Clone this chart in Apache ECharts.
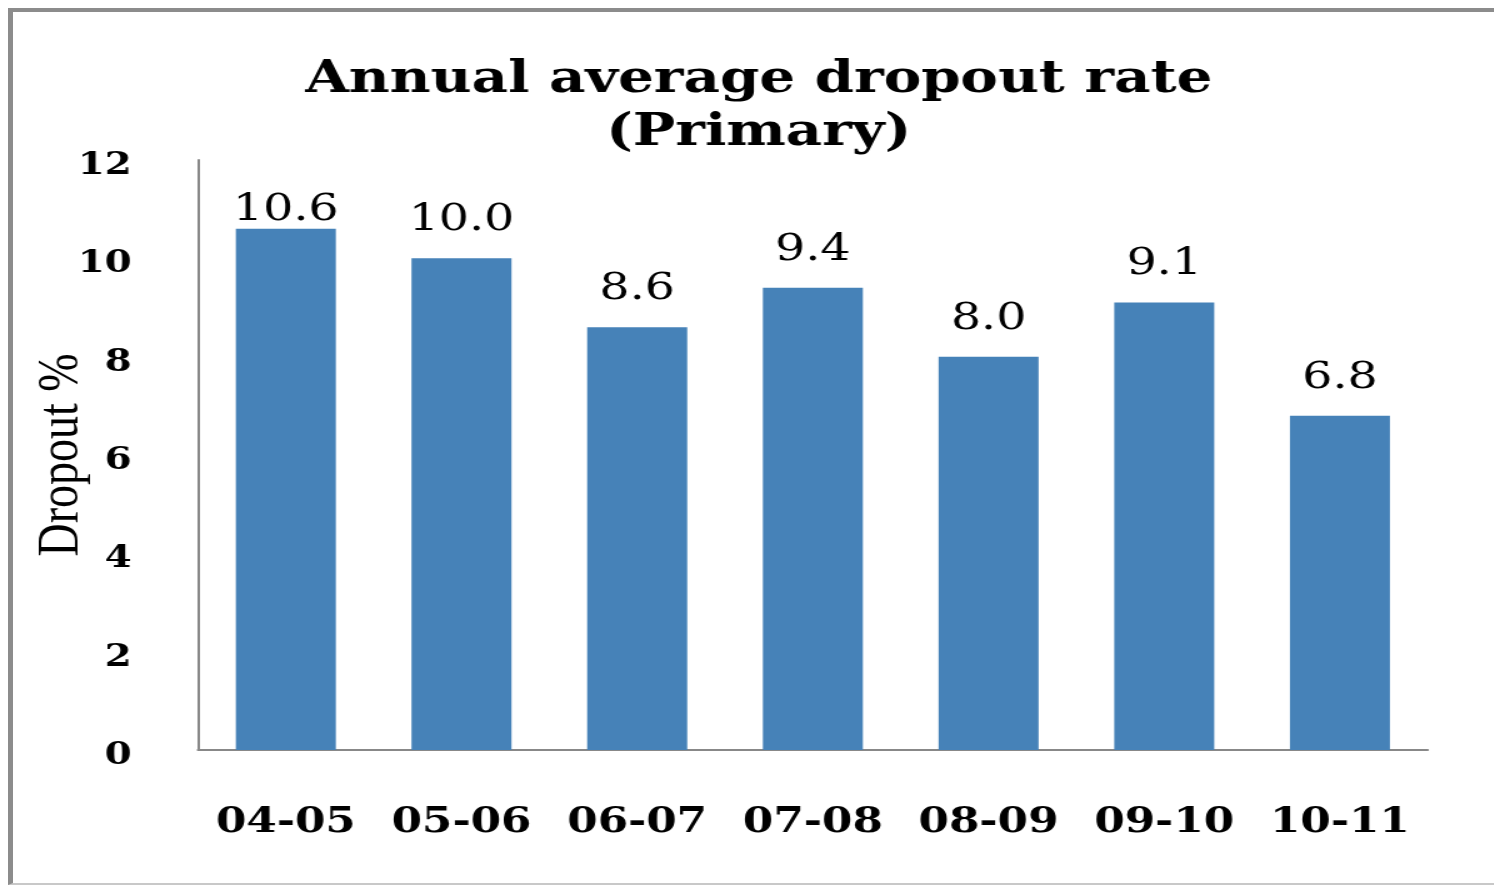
<!DOCTYPE html>
<html>
<head>
<meta charset="utf-8">
<script src="https://cdn.jsdelivr.net/npm/echarts@6/dist/echarts.min.js"></script>
<style>
html,body{margin:0;padding:0;width:1494px;height:890px;overflow:hidden;background:#fff;}
#frame{position:absolute;left:8px;top:8px;width:1500px;height:877px;border-left:5px solid #8c8c8c;border-top:4px solid #8c8c8c;border-bottom:2px solid #c8c8c8;box-sizing:border-box;}
#chart{position:absolute;left:0;top:0;width:1195.2px;height:890px;transform:scaleX(1.25);transform-origin:0 0;}
</style>
</head>
<body>
<div id="frame"></div>
<div id="chart"></div>
<script>
const categories = ['04-05','05-06','06-07','07-08','08-09','09-10','10-11'];
const dropoutRates = [10.6, 10.0, 8.6, 9.4, 8.0, 9.1, 6.8];
const titleLines = ['Annual average dropout rate', '(Primary)'];
const yAxisName = 'Dropout %';
const yMin = 0, yMax = 12, yStep = 2;

const chart = echarts.init(document.getElementById('chart'), null, {renderer:'canvas'});
chart.setOption({
  animation:false,
  title:{
    text: titleLines.join('\n'),
    left: 602, top: 49, textAlign:'center',
    textStyle:{fontFamily:'DejaVu Serif', fontWeight:'bold', fontSize:45, lineHeight:53, color:'#000'}
  },
  grid:{left:158.4, right:52.8, top:160, bottom:140, containLabel:false},
  xAxis:{
    type:'category', data:categories,
    axisLine:{lineStyle:{color:'#888', width:2}},
    axisTick:{show:false},
    axisLabel:{interval:0, margin:55, fontFamily:'DejaVu Serif', fontWeight:'bold', fontSize:35, color:'#000'}
  },
  yAxis:{
    type:'value', min:yMin, max:yMax, interval:yStep,
    name:yAxisName, nameLocation:'middle', nameRotate:90, nameGap:85, nameMoveOverlap:false,
    nameTextStyle:{fontFamily:'Liberation Serif', fontSize:46, color:'#000'},
    axisLine:{show:true, lineStyle:{color:'#888', width:2}},
    axisTick:{show:false},
    splitLine:{show:false},
    axisLabel:{margin:53, formatter:v=>'{t|'+v+'}',
      rich:{t:{padding:[12,0,0,0], fontFamily:'DejaVu Serif', fontWeight:'bold', fontSize:31, color:'#000'}}}
  },
  series:[{
    type:'bar',
    data:dropoutRates.map((v,i)=> i===0 ? {value:v, label:{distance:0}} : v),
    barWidth:80,
    itemStyle:{color:'#4682b8'},
    label:{show:true, position:'top', distance:19, formatter:p=>p.value.toFixed(1),
      fontFamily:'DejaVu Serif', fontSize:38, color:'#000'}
  }]
});
</script>
</body>
</html>
